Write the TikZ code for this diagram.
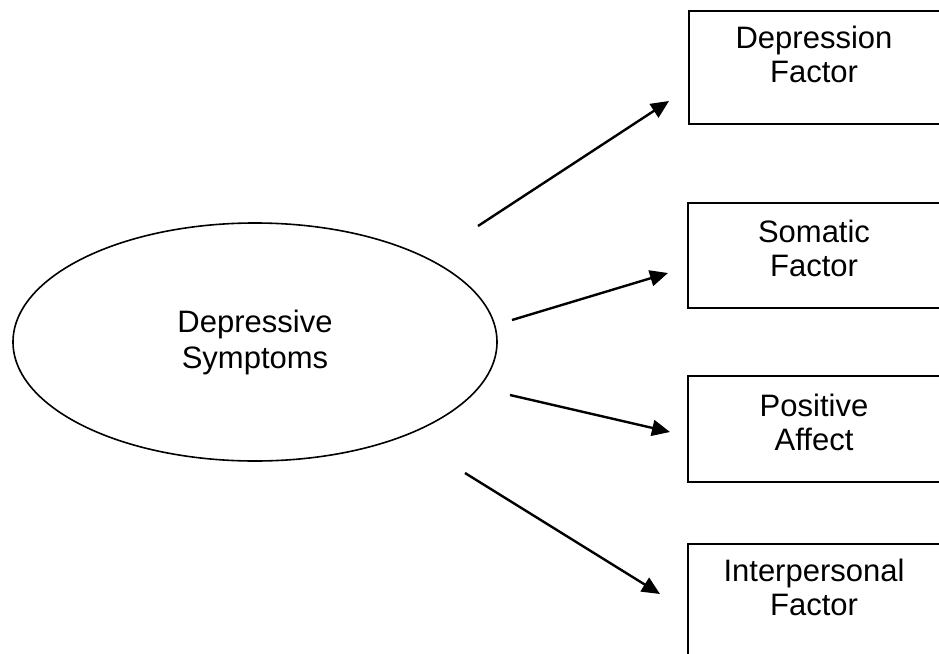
\documentclass[tikz,border=0pt]{standalone}
\usepackage{fontspec}
\setmainfont{Liberation Sans}
\usetikzlibrary{arrows.meta,shapes.geometric}
\begin{document}
\begin{tikzpicture}[x=1pt,y=-1pt,
  boxst/.style={draw,line width=2pt,rectangle,inner sep=0pt},
  txt/.style={inner sep=0pt,align=center,anchor=north,font=\fontsize{31}{34}\selectfont},
  arr/.style={line width=2.4pt,-{Triangle[length=18pt,width=16pt]}}]
\useasboundingbox (0,0) rectangle (939,653);
\clip (0,0) rectangle (939,653);
\node[ellipse,draw,line width=1.6pt,minimum width=484pt,minimum height=238pt,inner sep=0pt,align=center,font=\fontsize{31}{36}\selectfont] (ell) at (255,342) {Depressive\\Symptoms};
% boxes
\node[boxst,minimum width=254pt,minimum height=113pt,anchor=north west] (b1) at (688,10) {};
\node[boxst,minimum width=255pt,minimum height=105pt,anchor=north west] (b2) at (687,202) {};
\node[boxst,minimum width=255pt,minimum height=106pt,anchor=north west] (b3) at (687,375) {};
\node[boxst,minimum width=255pt,minimum height=120pt,anchor=north west] (b4) at (687,543) {};
\node[txt] (t1) at (814,24) {\strut Depression\\Factor};
\node[txt] (t2) at (814,218) {\strut Somatic\\Factor};
\node[txt] (t3) at (814,392) {\strut Positive\\Affect};
\node[txt] (t4) at (814,557) {\strut Interpersonal\\Factor};
% arrows
\coordinate (s1) at (478,226); \coordinate (e1) at (669,101);
\coordinate (s2) at (512,320); \coordinate (e2) at (668,273);
\coordinate (s3) at (510,395); \coordinate (e3) at (670,432);
\coordinate (s4) at (465,473); \coordinate (e4) at (660,594);
\draw[arr] (s1) -- (e1);
\draw[arr] (s2) -- (e2);
\draw[arr] (s3) -- (e3);
\draw[arr] (s4) -- (e4);
\end{tikzpicture}
\end{document}
